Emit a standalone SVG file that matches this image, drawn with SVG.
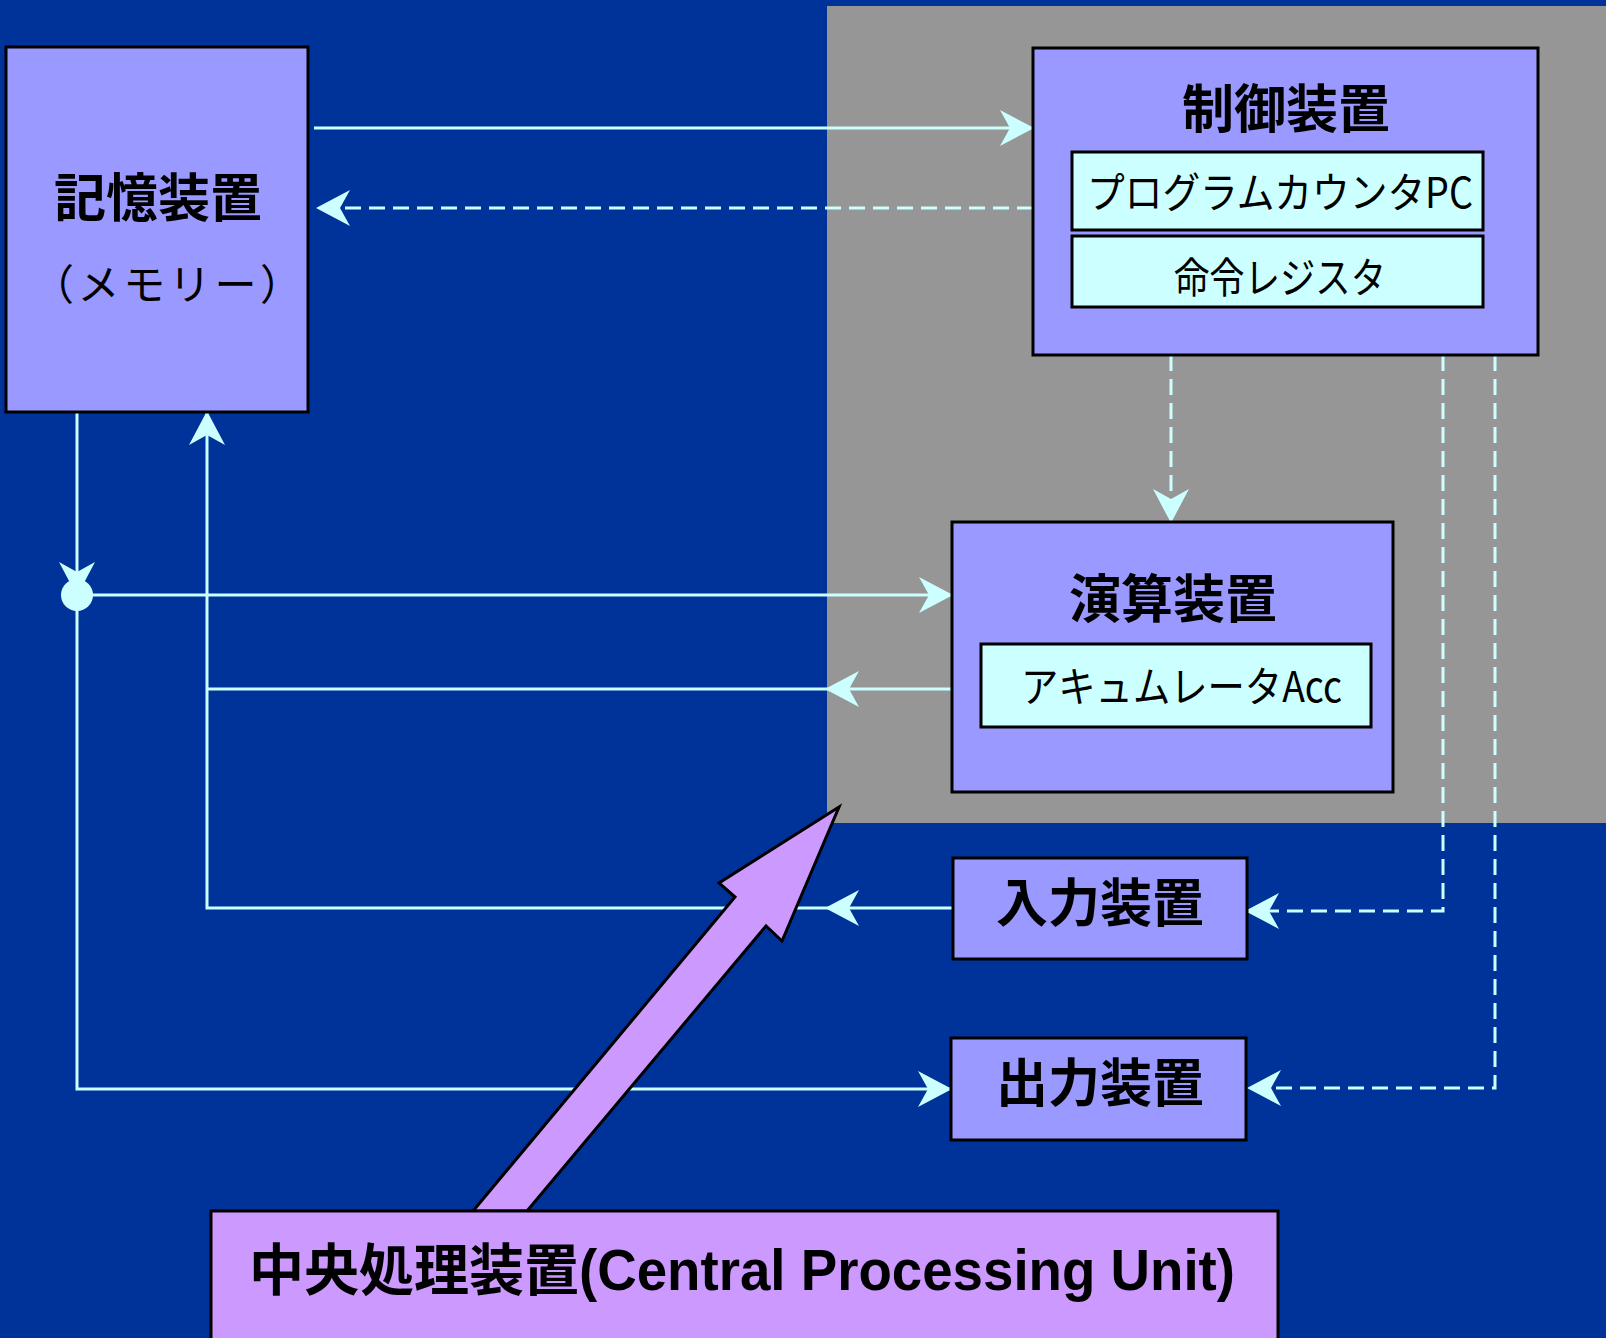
<svg xmlns="http://www.w3.org/2000/svg" width="1606" height="1338" viewBox="0 0 1606 1338">
<style>
.box{fill:#9999FF;stroke:#000;stroke-width:3}
.reg{fill:#CCFFFF;stroke:#000;stroke-width:3}
.ln{fill:none;stroke:#CCFFFF;stroke-width:3}
.dash{stroke-dasharray:16 8}
.title{font-family:"Noto Sans CJK JP","Noto Sans",sans-serif;font-weight:700;font-size:52px;fill:#000;text-anchor:middle}
.lab{font-family:"Noto Sans CJK JP","Noto Sans",sans-serif;font-weight:400;font-size:42px;fill:#000}
</style>
<defs>
<marker id="ah" markerUnits="userSpaceOnUse" orient="auto" refX="0" refY="0" markerWidth="40" markerHeight="40" viewBox="-36 -20 40 40" overflow="visible">
<path d="M1,0 L-33,-18 L-23,0 L-33,18 Z" fill="#CCFFFF"/>
</marker>
</defs>
<rect x="0" y="0" width="1606" height="1338" fill="#003399"/>
<rect x="827" y="6" width="779" height="817" fill="#969696"/>

<g id="connectors">
<path class="ln" d="M314,128 H1033" marker-end="url(#ah)"/>
<path class="ln dash" d="M1033,208 H317" marker-end="url(#ah)"/>
<path class="ln" d="M77,412 V595" marker-end="url(#ah)"/>
<path class="ln" d="M77,595 V1089 H951" marker-end="url(#ah)"/>
<path class="ln" d="M77,595 H952" marker-end="url(#ah)"/>
<path class="ln" d="M952,689 H826" marker-end="url(#ah)"/>
<path class="ln" d="M826,689 H207"/>
<path class="ln" d="M953,908 H826" marker-end="url(#ah)"/>
<path class="ln" d="M826,908 H207 V412" marker-end="url(#ah)"/>
<path class="ln dash" d="M1171,355 V522" marker-end="url(#ah)"/>
<path class="ln dash" d="M1443,355 V911 H1246" marker-end="url(#ah)"/>
<path class="ln dash" d="M1495,355 V1088 H1248" marker-end="url(#ah)"/>
<circle cx="77" cy="595" r="16" fill="#CCFFFF"/>
</g>

<g id="memory">
<rect class="box" x="6" y="47" width="302" height="365"/>
<text class="title" x="158" y="217">記憶装置</text>
<text class="lab" x="167" y="300" font-size="40" text-anchor="middle" textLength="270" lengthAdjust="spacing">（メモリー）</text>
</g>

<g id="control">
<rect class="box" x="1033" y="48" width="505" height="307"/>
<text class="title" x="1286" y="128">制御装置</text>
<g id="pc">
<rect class="reg" x="1072" y="152" width="411" height="78"/>
<text class="lab" x="1087" y="208" textLength="386" lengthAdjust="spacingAndGlyphs">プログラムカウンタPC</text>
</g>
<g id="ir">
<rect class="reg" x="1072" y="236" width="411" height="71"/>
<text class="lab" x="1174" y="293" textLength="212" lengthAdjust="spacingAndGlyphs">命令レジスタ</text>
</g>
</g>

<g id="alu">
<rect class="box" x="952" y="522" width="441" height="270"/>
<text class="title" x="1173" y="618">演算装置</text>
<g id="acc">
<rect class="reg" x="981" y="644" width="390" height="83"/>
<text class="lab" x="1021" y="702" textLength="321" lengthAdjust="spacingAndGlyphs">アキュムレータAcc</text>
</g>
</g>

<g id="input">
<rect class="box" x="953" y="858" width="294" height="101"/>
<text class="title" x="1100" y="922">入力装置</text>
</g>

<g id="output">
<rect class="box" x="951" y="1038" width="295" height="102"/>
<text class="title" x="1100" y="1102">出力装置</text>
</g>

<g id="cpu-arrow">
<polygon points="839,807 719,883 735,897 473,1211 527,1211 766,926 782,941" fill="#CC99FF" stroke="#000" stroke-width="3" stroke-linejoin="miter"/>
</g>

<g id="cpu">
<rect x="211" y="1211" width="1067" height="140" fill="#CC99FF" stroke="#000" stroke-width="3"/>
<text x="249" y="1290" font-family="'Noto Sans CJK JP',sans-serif" font-weight="700" font-size="56" textLength="330" lengthAdjust="spacingAndGlyphs">中央処理装置</text>
<text x="579" y="1290" font-family="'Liberation Sans',Arial,sans-serif" font-weight="700" font-size="58" textLength="656" lengthAdjust="spacingAndGlyphs">(Central Processing Unit)</text>
</g>
</svg>
